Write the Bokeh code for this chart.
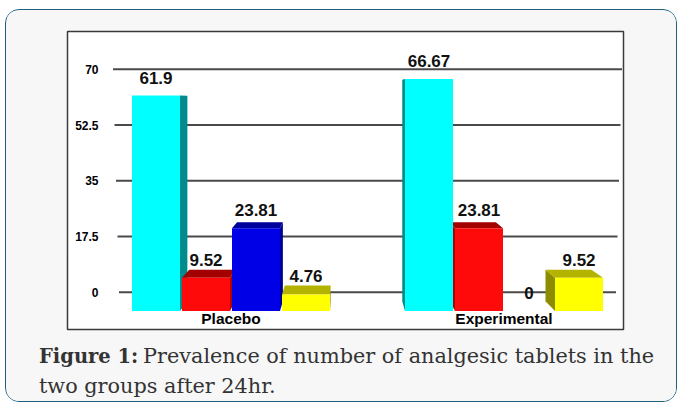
from bokeh.plotting import figure
from bokeh.layouts import column
from bokeh.models import Range1d, FixedTicker
from bokeh.core.properties import value
from bokeh.embed import file_html
from bokeh.resources import INLINE

# ---------------- data ----------------
groups = ["Placebo", "Experimental"]
placebo = [61.9, 9.52, 23.81, 4.76]
experimental = [66.67, 23.81, 0, 9.52]
placebo_labels = ["61.9", "9.52", "23.81", "4.76"]
experimental_labels = ["66.67", "23.81", "0", "9.52"]
y_ticks = [0, 17.5, 35, 52.5, 70]
y_tick_labels = ["0", "17.5", "35", "52.5", "70"]
caption_bold = "Figure 1:"
caption_line1 = "Prevalence of number of analgesic tablets in the"
caption_line2 = "two groups after 24hr."

front_colors = ["#00FFFF", "#FF0A0A", "#0000E6", "#FFFF00"]
top_colors = ["#00B5B5", "#A30000", "#00009C", "#B3B300"]
side_colors = ["#008C8C", "#B00000", "#000090", "#8C8C00"]
BG = "#F7F7F7"

# ---------------- layout (page pixel geometry) ----------------
MARGIN_TOP, MARGIN_LEFT, BORDER = 9, 5, 1.5
OX = MARGIN_LEFT + BORDER
OY = MARGIN_TOP + BORDER
W, HP, HC = 670, 324, 67
MB_L, MB_R, MB_T, MB_B = 61, 53, 21, 5
FL = OX + MB_L
FR = OX + W - MB_R
FT = OY + MB_T
FB = OY + HP - MB_B

X0, XS = 231.0, 273.0          # group centres at x = 0 and x = 1
BY0, BYS = 292.3, 3.1857       # back wall scale (grid / ticks)
FY0, FYS = 311.0, 3.48         # front plane scale (bar faces)

x_range = Range1d((FL - X0) / XS, (FR - X0) / XS)
y_range = Range1d((BY0 - FB) / BYS, (BY0 - FT) / BYS)
front_range = Range1d((FY0 - FB) / FYS, (FY0 - FT) / FYS)

p = figure(width=W, height=HP, output_backend="svg", toolbar_location=None,
           x_range=x_range, y_range=y_range,
           min_border_left=MB_L, min_border_right=MB_R,
           min_border_top=MB_T, min_border_bottom=MB_B)
p.extra_y_ranges = {"front": front_range}
p.background_fill_color = "white"
p.border_fill_color = BG
p.outline_line_color = "#3A3A3A"
p.outline_line_width = 1.5
p.xgrid.visible = False
p.ygrid.visible = False

# ---------------- axes ----------------
yax = p.yaxis[0]
yax.ticker = FixedTicker(ticks=y_ticks)
yax.major_label_overrides = {t: l for t, l in zip(y_ticks, y_tick_labels)}
yax.axis_line_color = None
yax.major_tick_line_color = None
yax.minor_tick_line_color = None
yax.major_label_text_font = "Liberation Sans"
yax.major_label_text_font_style = "bold"
yax.major_label_text_font_size = "12px"
yax.major_label_text_color = "black"
yax.major_label_standoff = -37

xax = p.xaxis[0]
xax.ticker = FixedTicker(ticks=[0, 1])
xax.major_label_overrides = {0: groups[0], 1: groups[1]}
xax.axis_line_color = None
xax.major_tick_line_color = None
xax.minor_tick_line_color = None
xax.major_label_text_font = "Liberation Sans"
xax.major_label_text_font_style = "bold"
xax.major_label_text_font_size = "15.5px"
xax.major_label_text_color = "black"
xax.major_label_standoff = -26


def px_to_x(px):
    return (px - X0) / XS


# ---------------- grid lines on the back wall ----------------
gx0 = [px_to_x(119 - 6 * t / 70.0) for t in y_ticks]
gx1 = [px_to_x(616 + 6 * t / 70.0) for t in y_ticks]
p.segment(x0=gx0, y0=y_ticks, x1=gx1, y1=y_ticks,
          line_color="#4A4A4A", line_width=2)

# ---------------- 3D bars ----------------
PITCH = 50.0 / XS
BW = 48.0 / XS
XV = (344 - X0) / XS            # vanishing point
VV = (FY0 - 97) / FYS
K = 0.955                       # depth scale of the bar backs


def back(x, v):
    return XV + K * (x - XV), VV + K * (v - VV)


bars = []
for g, vals in enumerate([placebo, experimental]):
    for i, v in enumerate(vals):
        bars.append((g + (i - 1.5) * PITCH, v, i))

face_xs, face_ys, face_c = [], [], []
for xc, v, i in sorted(bars, key=lambda b: -abs(b[0] - XV)):
    if v <= 0:
        continue
    xl, xr = xc - BW / 2, xc + BW / 2
    xe = xr if xc < XV else xl
    bx0, by0 = back(xe, 0)
    bx1, by1 = back(xe, v)
    face_xs.append([xe, xe, bx1, bx0])
    face_ys.append([0, v, by1, by0])
    face_c.append(side_colors[i])
    if v < VV:
        blx, bly = back(xl, v)
        brx, bry = back(xr, v)
        face_xs.append([xl, xr, brx, blx])
        face_ys.append([v, v, bry, bly])
        face_c.append(top_colors[i])

p.patches(xs=face_xs, ys=face_ys, fill_color=face_c, line_color=None,
          y_range_name="front")

bx = [b[0] for b in bars]
bv = [b[1] for b in bars]
bc = [front_colors[b[2]] for b in bars]
p.vbar(x=bx, top=bv, bottom=0, width=BW, fill_color=bc, line_color=None,
       y_range_name="front")

p.text(x=bx, y=bv, text=placebo_labels + experimental_labels,
       y_range_name="front", text_align="center", text_baseline="alphabetic",
       y_offset=-18, text_font=value("Liberation Sans"),
       text_font_style="bold", text_font_size="17px", text_color="#111111")

# ---------------- caption (second figure, page-pixel coordinates) ----------------
cy0 = OY + HP
cap = figure(width=W, height=HC, output_backend="svg", toolbar_location=None,
             x_range=Range1d(OX, OX + W), y_range=Range1d(cy0 + HC, cy0),
             min_border=0, x_axis_location=None, y_axis_location=None)
cap.xgrid.visible = False
cap.ygrid.visible = False
cap.outline_line_color = None
cap.background_fill_color = BG
cap.border_fill_color = BG
for fig in (p, cap):
    if hasattr(fig, "frame_align"):
        fig.frame_align = False

CAP_FONT = value("DejaVu Serif")
cap.text(x=[39], y=[356], text=[caption_bold], text_font=CAP_FONT,
         text_font_style="bold", text_font_size="19.5px", text_color="#333333",
         text_baseline="alphabetic")
cap.text(x=[143, 39], y=[356, 386], text=[caption_line1, caption_line2],
         text_font=CAP_FONT, text_font_size="20.8px", text_color="#333333",
         text_baseline="alphabetic")

layout = column(p, cap, margin=(MARGIN_TOP, 0, 0, MARGIN_LEFT),
                styles={"border": "1.5px solid #1F5F80",
                        "border-radius": "14px", "overflow": "hidden",
                        "background-color": BG})

open("out.html", "w").write(file_html(layout, INLINE))
